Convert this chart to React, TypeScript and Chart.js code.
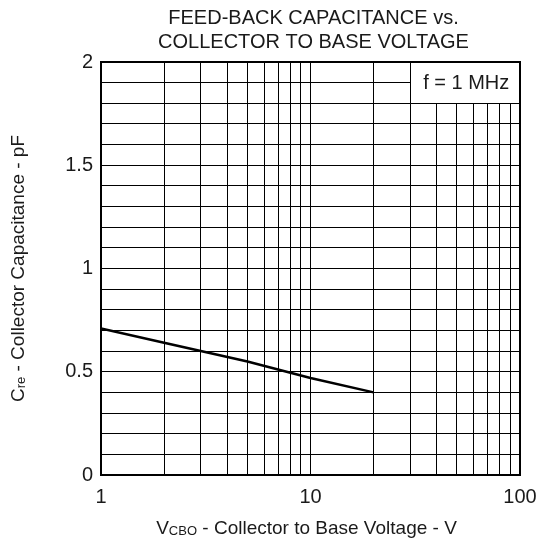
import React, { useEffect, useRef } from "react";
import { Chart, registerables } from "chart.js";

Chart.register(...registerables);

// ---- data ----
const voltage = [1, 2, 5, 10, 20];
const capacitance = [0.71, 0.64, 0.55, 0.47, 0.4];
const xTickValues = [1, 2, 3, 4, 5, 6, 7, 8, 9, 10, 20, 30, 40, 50, 60, 70, 80, 90, 100];
const xLabeledTicks = [1, 10, 100];
const yLabeledTicks = [0, 0.5, 1, 1.5, 2];
const titleLines = ["FEED-BACK CAPACITANCE vs.", "COLLECTOR TO BASE VOLTAGE"];
const noteText = "f = 1 MHz";
const noteRangeX = [30, 100];
const noteRangeY = [1.8, 2];
const xTitleParts = [
  { text: "V", sub: false },
  { text: "CBO", sub: true },
  { text: " - Collector to Base Voltage - V", sub: false },
];
const yTitleParts = [
  { text: "C", sub: false },
  { text: "re", sub: true },
  { text: " - Collector Capacitance - pF", sub: false },
];

const FONT = '"Liberation Sans", Arial, Helvetica, sans-serif';
const TEXT_COLOR = "#1a1a1a";

function drawMixed(ctx: CanvasRenderingContext2D, parts: { text: string; sub: boolean }[], cx: number, cy: number, size: number) {
  const subSize = Math.round(size * 0.68);
  let total = 0;
  const widths = parts.map((p) => {
    ctx.font = `${p.sub ? subSize : size}px ${FONT}`;
    const w = ctx.measureText(p.text).width;
    total += w;
    return w;
  });
  let x = cx - total / 2;
  ctx.textAlign = "left";
  ctx.textBaseline = "alphabetic";
  parts.forEach((p, i) => {
    ctx.font = `${p.sub ? subSize : size}px ${FONT}`;
    ctx.fillText(p.text, x, cy + size * 0.36 + (p.sub ? 1 : 0));
    x += widths[i];
  });
}

const decorPlugin = {
  id: "decor",
  afterDraw(chart: any) {
    const { ctx, chartArea: a, scales } = chart;
    const xs = scales.x;
    const ys = scales.y;
    ctx.save();
    // note box
    const bx0 = Math.round(xs.getPixelForValue(noteRangeX[0])) + 0.5;
    const bx1 = xs.getPixelForValue(noteRangeX[1]);
    const by0 = ys.getPixelForValue(noteRangeY[1]);
    const by1 = Math.round(ys.getPixelForValue(noteRangeY[0])) + 0.5;
    ctx.fillStyle = "#fff";
    ctx.fillRect(bx0, by0, bx1 - bx0, by1 - by0);
    ctx.strokeStyle = "#000";
    ctx.lineWidth = 1;
    ctx.beginPath();
    ctx.moveTo(bx0, by0);
    ctx.lineTo(bx0, by1);
    ctx.lineTo(bx1, by1);
    ctx.stroke();
    ctx.fillStyle = TEXT_COLOR;
    ctx.font = `20px ${FONT}`;
    ctx.textAlign = "center";
    ctx.textBaseline = "middle";
    ctx.fillText(noteText, (bx0 + bx1) / 2 + 1, (by0 + by1) / 2 + 1);

    // frame
    ctx.lineWidth = 2;
    ctx.strokeStyle = "#000";
    ctx.strokeRect(a.left, a.top, a.right - a.left, a.bottom - a.top);

    // title
    ctx.fillStyle = TEXT_COLOR;
    ctx.font = `20px ${FONT}`;
    ctx.textAlign = "center";
    ctx.textBaseline = "middle";
    const cx = (a.left + a.right) / 2;
    titleLines.forEach((t, i) => ctx.fillText(t, cx + 3, 18 + i * 24));

    // x title
    drawMixed(ctx, xTitleParts, cx - 4, 527, 19);

    // y title
    ctx.save();
    ctx.translate(17, (a.top + a.bottom) / 2);
    ctx.rotate(-Math.PI / 2);
    drawMixed(ctx, yTitleParts, 0, 0, 19);
    ctx.restore();

    ctx.restore();
  },
};

export default function App() {
  const ref = useRef<HTMLCanvasElement | null>(null);
  useEffect(() => {
    if (!ref.current) return;
    const chart = new Chart(ref.current, {
      type: "line",
      data: {
        datasets: [
          {
            data: voltage.map((v, i) => ({ x: v, y: capacitance[i] })),
            borderColor: "#000",
            borderWidth: 2.5,
            pointRadius: 0,
            tension: 0,
            fill: false,
          },
        ],
      },
      options: {
        responsive: false,
        animation: false,
        devicePixelRatio: 1,
        layout: { padding: { top: 62, right: 22, left: 0, bottom: 0 } },
        plugins: { legend: { display: false }, title: { display: false }, tooltip: { enabled: false } },
        scales: {
          x: {
            type: "logarithmic",
            min: 1,
            max: 100,
            afterBuildTicks: (s: any) => {
              s.ticks = xTickValues.map((v) => ({ value: v }));
            },
            afterFit: (s: any) => {
              s.height = 70;
              s.paddingLeft = 0;
              s.paddingRight = 0;
            },
            ticks: {
              autoSkip: false,
              maxRotation: 0,
              padding: 10,
              color: TEXT_COLOR,
              font: { size: 20, family: FONT },
              callback: (v: any) => (xLabeledTicks.includes(Number(v)) ? String(v) : ""),
            },
            grid: { color: "#000", lineWidth: 1, drawTicks: false },
            border: { display: false },
          },
          y: {
            type: "linear",
            min: 0,
            max: 2,
            afterFit: (s: any) => {
              s.width = 101;
              s.paddingTop = 0;
              s.paddingBottom = 0;
            },
            ticks: {
              stepSize: 0.1,
              autoSkip: false,
              padding: 8,
              color: TEXT_COLOR,
              font: { size: 20, family: FONT },
              callback: (v: any) => {
                const n = Number(v);
                const hit = yLabeledTicks.find((t) => Math.abs(t - n) < 1e-6);
                return hit === undefined ? "" : String(hit);
              },
            },
            grid: { color: "#000", lineWidth: 1, drawTicks: false },
            border: { display: false },
          },
        },
      },
      plugins: [decorPlugin],
    });
    return () => chart.destroy();
  }, []);
  return (
    <div style={{ position: "fixed", left: 0, top: 0, width: 542, height: 545, background: "#fff" }}>
      <canvas ref={ref} width={542} height={545} style={{ display: "block" }} />
    </div>
  );
}
